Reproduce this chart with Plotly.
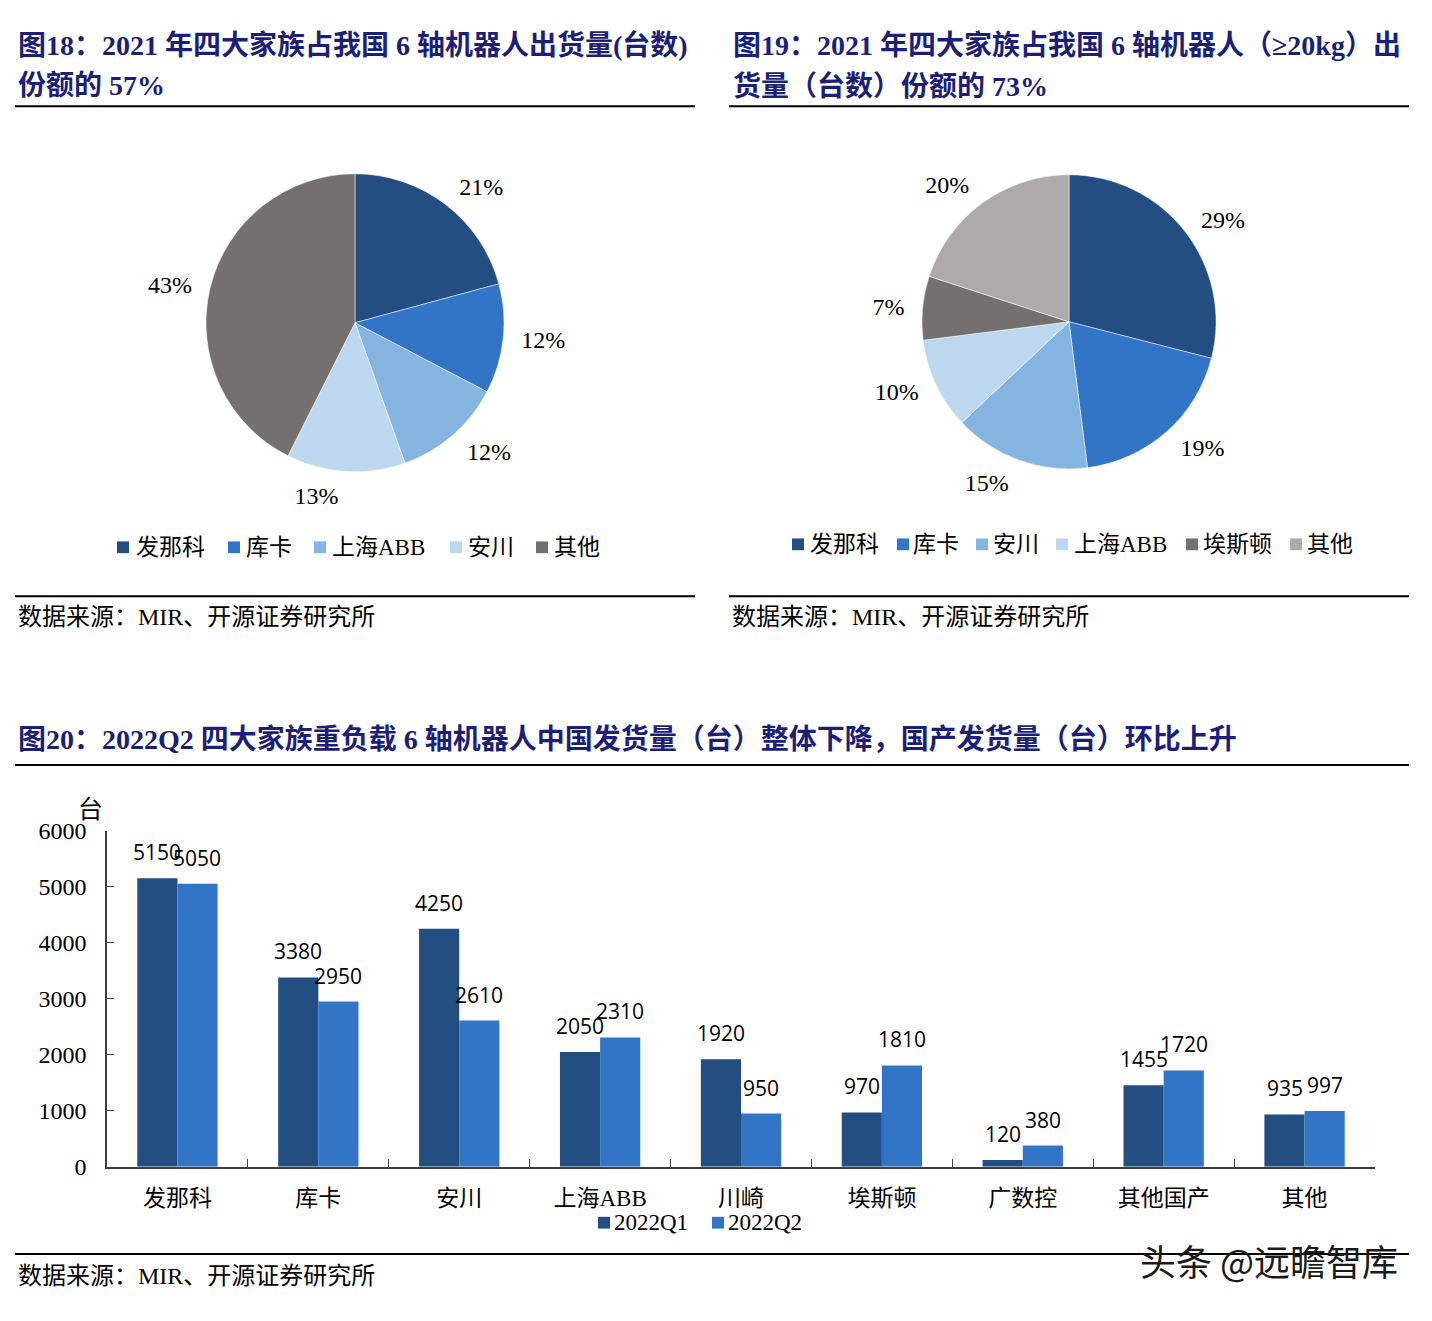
import plotly.graph_objects as go

W, H = 1432, 1321

# ---------------- data ----------------
pie1_labels = ["发那科", "库卡", "上海ABB", "安川", "其他"]
pie1_values = [21, 12, 12, 13, 43]
pie1_colors = ["#234E82", "#3274C6", "#84B4E0", "#BDD7EE", "#757070"]

pie2_labels = ["发那科", "库卡", "安川", "上海ABB", "埃斯顿", "其他"]
pie2_values = [29, 19, 15, 10, 7, 20]
pie2_colors = ["#234E82", "#3274C6", "#84B4E0", "#BDD7EE", "#757070", "#AEAAAA"]

bar_categories = ["发那科", "库卡", "安川", "上海ABB", "川崎", "埃斯顿", "广数控", "其他国产", "其他"]
q1_values = [5150, 3380, 4250, 2050, 1920, 970, 120, 1455, 935]
q2_values = [5050, 2950, 2610, 2310, 950, 1810, 380, 1720, 997]
series_names = ["2022Q1", "2022Q2"]
series_colors = ["#234E82", "#3274C6"]
y_ticks = [0, 1000, 2000, 3000, 4000, 5000, 6000]

title18 = ["图18：2021 年四大家族占我国 6 轴机器人出货量(台数)", "份额的 57%"]
title19 = ["图19：2021 年四大家族占我国 6 轴机器人（≥20kg）出", "货量（台数）份额的 73%"]
title20 = "图20：2022Q2 四大家族重负载 6 轴机器人中国发货量（台）整体下降，国产发货量（台）环比上升"
source_text = "数据来源：MIR、开源证券研究所"
y_unit = "台"
watermark = "头条 @远瞻智库"

# ---------------- style ----------------
SERIF = "Liberation Serif, Noto Sans CJK SC, serif"
SANS = "Open Sans, Liberation Sans, sans-serif"
TITLE_COLOR = "#1C1F78"
AXIS_COLOR = "#404040"


def px(x):
    return x / W


def py(y):
    return 1 - y / H


fig = go.Figure()


# ---------------- pies ----------------
def add_pie(labels, values, colors, cx, cy, half, label_pad):
    # transparent companion pie, slightly larger, carries the outside % labels
    rr = half + label_pad
    fig.add_trace(go.Pie(
        labels=labels, values=values,
        text=[f"{v}%" for v in values], textinfo="text",
        textposition="outside",
        textfont=dict(family=SERIF, size=24, color="#000000"),
        marker=dict(colors=["rgba(0,0,0,0)"] * len(values), line=dict(width=0)),
        sort=False, direction="clockwise", rotation=0,
        showlegend=False, hoverinfo="skip",
        domain=dict(x=[px(cx - rr), px(cx + rr)], y=[py(cy + rr), py(cy - rr)]),
    ))
    fig.add_trace(go.Pie(
        labels=labels, values=values, textinfo="none",
        marker=dict(colors=colors, line=dict(color="#FFFFFF", width=0.5)),
        sort=False, direction="clockwise", rotation=0,
        showlegend=False, hoverinfo="label+percent",
        domain=dict(x=[px(cx - half), px(cx + half)], y=[py(cy + half), py(cy - half)]),
    ))


add_pie(pie1_labels, pie1_values, pie1_colors, 355, 316, 152, 12)
add_pie(pie2_labels, pie2_values, pie2_colors, 1069, 315, 150, 12)

# ---------------- bars ----------------
for name, vals, col in zip(series_names, [q1_values, q2_values], series_colors):
    fig.add_trace(go.Bar(
        x=bar_categories, y=vals, name=name,
        marker=dict(color=col, line=dict(width=0)),
        showlegend=False, xaxis="x", yaxis="y",
    ))

annotations = []
shapes = []

# bar value labels
for vals, shift in zip([q1_values, q2_values], [-20, 20]):
    for c, v in zip(bar_categories, vals):
        annotations.append(dict(
            x=c, y=v, xref="x", yref="y", xshift=shift, yshift=26,
            text=str(v), showarrow=False, xanchor="center", yanchor="middle",
            font=dict(family=SANS, size=21, color="#000000"),
        ))

# titles
for i, line in enumerate(title18):
    annotations.append(dict(x=px(16), y=py(33 + 41 * i), xref="paper", yref="paper",
                            text=f"<b>{line}</b>", showarrow=False, xanchor="left", yanchor="middle",
                            font=dict(family=SERIF, size=28, color=TITLE_COLOR)))
for i, line in enumerate(title19):
    annotations.append(dict(x=px(731), y=py(33 + 41 * i), xref="paper", yref="paper",
                            text=f"<b>{line}</b>", showarrow=False, xanchor="left", yanchor="middle",
                            font=dict(family=SERIF, size=28, color=TITLE_COLOR)))
annotations.append(dict(x=px(16), y=py(741), xref="paper", yref="paper",
                        text=f"<b>{title20}</b>", showarrow=False, xanchor="left", yanchor="middle",
                        font=dict(family=SERIF, size=28, color=TITLE_COLOR)))

# source lines
for sx, sy in [(16, 616), (730, 616), (16, 1288)]:
    annotations.append(dict(x=px(sx), y=py(sy), xref="paper", yref="paper",
                            text=source_text, showarrow=False, xanchor="left", yanchor="middle",
                            font=dict(family=SERIF, size=24, color="#000000")))

# rules
for x0, x1, y in [(15, 695, 95), (729, 1409, 95), (15, 695, 595), (729, 1409, 595),
                  (15, 1409, 767), (15, 1409, 1266)]:
    shapes.append(dict(type="line", xref="paper", yref="paper",
                       x0=px(x0), x1=px(x1), y0=py(y), y1=py(y),
                       line=dict(color="#000000", width=2)))


# manual legends
def add_legend(labels, colors, sq_x, txt_x, y, size):
    for lab, col, sx, tx in zip(labels, colors, sq_x, txt_x):
        shapes.append(dict(type="rect", xref="paper", yref="paper",
                           x0=px(sx), x1=px(sx + 12), y0=py(y + 6), y1=py(y - 6),
                           fillcolor=col, line=dict(width=0)))
        annotations.append(dict(x=px(tx), y=py(y), xref="paper", yref="paper",
                                text=lab, showarrow=False, xanchor="left", yanchor="middle",
                                font=dict(family=SERIF, size=size, color="#000000")))


add_legend(pie1_labels, pie1_colors, [117, 228, 314, 450, 536], [134, 244, 330, 466, 552], 545, 23)
add_legend(pie2_labels, pie2_colors, [792, 897, 976, 1056, 1186, 1290], [808, 911, 991, 1072, 1201, 1305], 542, 23)
add_legend(series_names, series_colors, [598, 712], [612, 726], 1234, 23)

# y unit
annotations.append(dict(x=px(90), y=py(813), xref="paper", yref="paper", text=y_unit,
                        showarrow=False, xanchor="center", yanchor="middle",
                        font=dict(family=SERIF, size=25, color="#000000")))

# watermark
annotations.append(dict(x=px(1400), y=py(1272), xref="paper", yref="paper", text=watermark,
                        showarrow=False, xanchor="right", yanchor="middle",
                        font=dict(family="Noto Sans CJK SC, sans-serif", size=36, color="#1A1A1A")))

fig.update_layout(
    width=W, height=H,
    margin=dict(l=0, r=0, t=0, b=0),
    paper_bgcolor="#FFFFFF", plot_bgcolor="#FFFFFF",
    barmode="group", bargap=0.43, bargroupgap=0,
    xaxis=dict(domain=[px(107), px(1375)], type="category",
               showline=True, linecolor=AXIS_COLOR, linewidth=1.5,
               ticks="inside", tickson="boundaries", ticklen=8, tickcolor=AXIS_COLOR,
               tickfont=dict(family=SERIF, size=23, color="#000000"),
               ticklabelstandoff=10, showgrid=False, fixedrange=True),
    yaxis=dict(domain=[py(1177), py(834)], range=[0, 6000],
               tickvals=y_ticks, ticktext=[str(t) for t in y_ticks],
               showline=True, linecolor=AXIS_COLOR, linewidth=1.5,
               ticks="inside", ticklen=7, tickcolor=AXIS_COLOR,
               tickfont=dict(family=SERIF, size=24, color="#000000"),
               ticklabelstandoff=14, showgrid=False, zeroline=False, fixedrange=True),
    annotations=annotations, shapes=shapes,
    showlegend=False,
)

fig.write_html("out.html", config={"displayModeBar": False},
               post_script="document.body.style.margin='0px';")
